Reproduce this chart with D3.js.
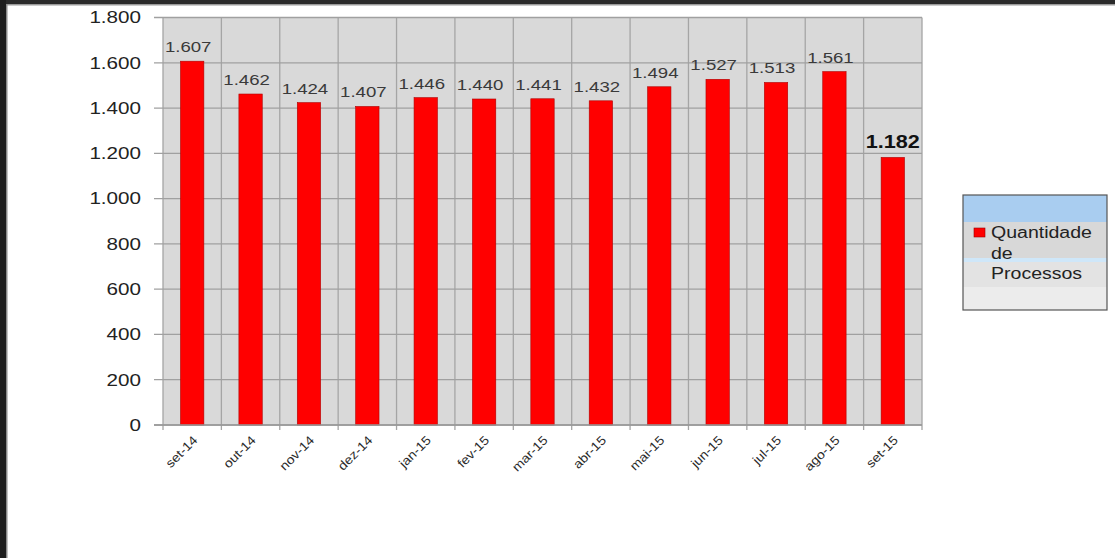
<!DOCTYPE html>
<html>
<head>
<meta charset="utf-8">
<script src="https://cdn.jsdelivr.net/npm/d3@7"></script>
<style>
  body{margin:0;background:#fff;}
  svg{display:block;font-family:"Liberation Sans",Arial,sans-serif;}
</style>
</head>
<body>
<svg id="canvas"></svg>
<script>
let months=["set-14","out-14","nov-14","dez-14","jan-15","fev-15","mar-15","abr-15","mai-15","jun-15","jul-15","ago-15","set-15"];
let processos=[1607,1462,1424,1407,1446,1440,1441,1432,1494,1527,1513,1561,1182];
let yTicks=[0,200,400,600,800,1000,1200,1400,1600,1800];
let legendLines=["Quantidade","de","Processos"];

let width=1115;
let height=558;
let plotLeft=163,plotRight=922,plotTop=17.5,plotBottom=425;

let xscale,yscale;
let fmt=(v)=>d3.format(",")(v).replace(/,/g,".");

let canvas=d3.select("#canvas")
canvas.attr('width',width)
canvas.attr('height',height)

// stretch text horizontally like the original picture
function stretch(sel,k){
    sel.each(function(){
        let w=this.getComputedTextLength();
        d3.select(this).attr('textLength',w*k).attr('lengthAdjust','spacingAndGlyphs');
    })
}

function drawFrame(){
    canvas.append('rect').attr('x',0).attr('y',0).attr('width',width).attr('height',4).attr('fill','#2a2a2a');
    canvas.append('rect').attr('x',0).attr('y',4).attr('width',width).attr('height',1.5).attr('fill','#9a9a9a');
    canvas.append('rect').attr('x',0).attr('y',0).attr('width',6).attr('height',height).attr('fill','#1e1e1e');
    canvas.append('rect').attr('x',6).attr('y',4).attr('width',1.5).attr('height',height).attr('fill','#8a8a8a');
}

function generateScales(){
    xscale=d3.scaleBand()
        .domain(months)
        .range([plotLeft,plotRight])
        .paddingInner(0.6)
        .paddingOuter(0.3);
    yscale=d3.scaleLinear()
        .domain([0,1800])
        .range([plotBottom,plotTop]);
}

function drawGrid(){
    canvas.append('rect')
        .attr('x',plotLeft).attr('y',plotTop)
        .attr('width',plotRight-plotLeft).attr('height',plotBottom-plotTop)
        .attr('fill','#d9d9d9');
    let step=(plotRight-plotLeft)/months.length;
    canvas.append('g').selectAll('line')
        .data(d3.range(months.length+1))
        .enter()
        .append('line')
        .attr('x1',(i)=>plotLeft+i*step)
        .attr('x2',(i)=>plotLeft+i*step)
        .attr('y1',plotTop)
        .attr('y2',plotBottom+5)
        .attr('stroke','#a5a5a5')
        .attr('stroke-width',1.3);
    canvas.append('g').selectAll('line')
        .data(yTicks)
        .enter()
        .append('line')
        .attr('x1',plotLeft-9)
        .attr('x2',plotRight)
        .attr('y1',(d)=>yscale(d))
        .attr('y2',(d)=>yscale(d))
        .attr('stroke','#a0a0a0')
        .attr('stroke-width',1.3);
}

function drawBars(){
    canvas.append('g').selectAll('rect')
        .data(processos)
        .enter()
        .append('rect')
        .attr('x',(d,i)=>xscale(months[i]))
        .attr('y',(d)=>yscale(d))
        .attr('width',xscale.bandwidth())
        .attr('height',(d)=>plotBottom-yscale(d))
        .attr('fill','#ff0000')
        .attr('stroke','#b00000')
        .attr('stroke-width',0.6);

    let labels=canvas.append('g').selectAll('text')
        .data(processos)
        .enter()
        .append('text')
        .attr('x',(d,i)=>xscale(months[i])+xscale.bandwidth()/2-(i==12?0:4))
        .attr('y',(d)=>yscale(d)-9)
        .attr('text-anchor','middle')
        .attr('font-size',(d,i)=>i==12?'18px':'15.5px')
        .attr('font-weight',(d,i)=>i==12?'bold':'normal')
        .attr('fill',(d,i)=>i==12?'#111':'#3a3a3a')
        .text((d)=>fmt(d));
    stretch(labels,1.2);
}

function drawAxis(){
    let yAxis=d3.axisLeft(yscale).tickValues(yTicks).tickFormat(fmt).tickSize(0).tickPadding(22);
    let yg=canvas.append('g')
        .attr('id','y-axis')
        .attr('transform','translate('+plotLeft+',0)')
        .call(yAxis);
    yg.select('.domain').remove();
    yg.selectAll('text').attr('font-size','16.5px').attr('fill','#222').attr('font-family','"Liberation Sans",Arial,sans-serif');
    stretch(yg.selectAll('text'),1.25);

    canvas.append('line')
        .attr('x1',plotLeft-9).attr('x2',plotRight)
        .attr('y1',plotBottom).attr('y2',plotBottom)
        .attr('stroke','#999').attr('stroke-width',1.5);

    let xg=canvas.append('g').attr('id','x-axis');
    let xl=xg.selectAll('text')
        .data(months)
        .enter()
        .append('text')
        .attr('transform',(d)=>'translate('+(xscale(d)+xscale.bandwidth()/2+6)+','+(plotBottom+16)+') rotate(-45)')
        .attr('text-anchor','end')
        .attr('font-size','12.5px')
        .attr('fill','#2a2a2a')
        .text((d)=>d);
    stretch(xl,1.12);
}

function drawLegend(){
    let lx=963,ly=195,lw=144,lh=115;
    let g=canvas.append('g').attr('id','legend');
    g.append('rect').attr('x',lx).attr('y',ly).attr('width',lw).attr('height',lh).attr('fill','#ececec');
    g.append('rect').attr('x',lx).attr('y',ly).attr('width',lw).attr('height',27).attr('fill','#a9cdf0');
    g.append('rect').attr('x',lx).attr('y',ly+27).attr('width',lw).attr('height',36).attr('fill','#d8d8d8');
    g.append('rect').attr('x',lx).attr('y',ly+63).attr('width',lw).attr('height',4).attr('fill','#cfe7f9');
    g.append('rect').attr('x',lx).attr('y',ly+67).attr('width',lw).attr('height',25).attr('fill','#e3e3e3');
    g.append('rect').attr('x',lx).attr('y',ly).attr('width',lw).attr('height',lh)
        .attr('fill','none').attr('stroke','#555').attr('stroke-width',1.2);
    g.append('rect').attr('x',lx+11).attr('y',ly+33).attr('width',11).attr('height',9)
        .attr('fill','#ff0000').attr('stroke','#900').attr('stroke-width',0.6);
    let t=g.selectAll('text.leg')
        .data(legendLines)
        .enter()
        .append('text')
        .attr('class','leg')
        .attr('x',lx+28)
        .attr('y',(d,i)=>ly+43+i*20.5)
        .attr('font-size','16px')
        .attr('fill','#222')
        .text((d)=>d);
    stretch(t,1.22);
}

generateScales();
drawGrid();
drawBars();
drawAxis();
drawLegend();
drawFrame();
</script>
</body>
</html>
